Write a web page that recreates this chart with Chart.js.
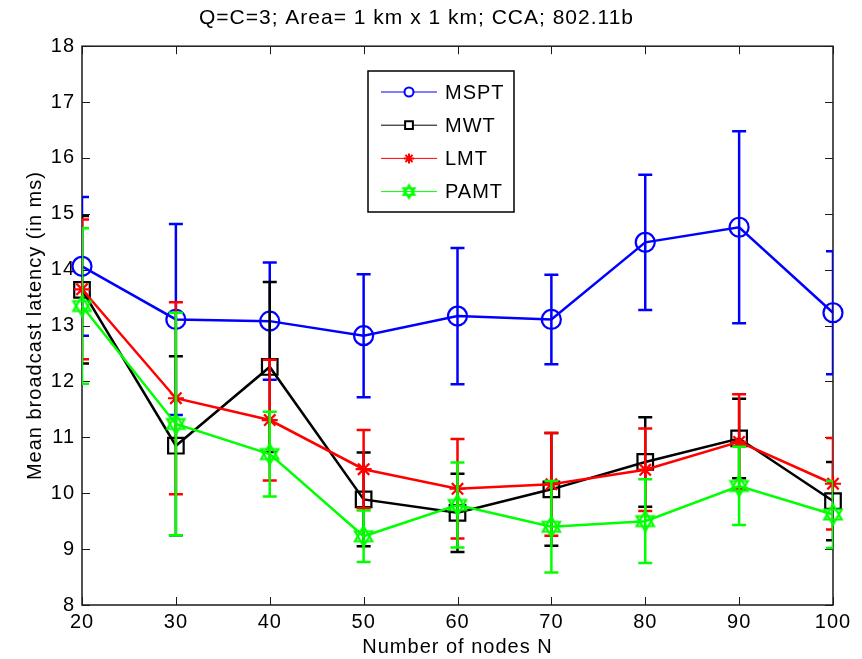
<!DOCTYPE html>
<html>
<head>
<meta charset="utf-8">
<script src="https://cdn.jsdelivr.net/npm/chart.js"></script>
<style>
  body { margin: 0; background: #fff; }
  #box { width: 862px; height: 659px; }
</style>
</head>
<body>
<div id="box"><canvas id="myChart"></canvas></div>
<script>
// données : nombre de noeuds et latence moyenne (ms) + demi-largeur des barres d'erreur
const nodes = [20, 30, 40, 50, 60, 70, 80, 90, 100];
const seriesNames = ['MSPT', 'MWT', 'LMT', 'PAMT'];

const mspt = [14.06, 13.11, 13.08, 12.82, 13.17, 13.11, 14.49, 14.76, 13.23];
const msptErr = [1.24, 1.71, 1.05, 1.1, 1.22, 0.8, 1.21, 1.72, 1.1];

const mwt = [13.64, 10.85, 12.26, 9.89, 9.65, 10.07, 10.56, 10.98, 9.86];
const mwtErr = [1.32, 1.6, 1.52, 0.84, 0.7, 1.01, 0.8, 0.71, 0.7];

const lmt = [13.65, 11.7, 11.31, 10.43, 10.08, 10.16, 10.42, 10.92, 10.17];
const lmtErr = [1.25, 1.72, 1.08, 0.7, 0.89, 0.92, 0.74, 0.85, 0.82];

const pamt = [13.35, 11.24, 10.7, 9.23, 9.79, 9.4, 9.5, 10.13, 9.62];
const pamtErr = [1.39, 1.99, 0.76, 0.46, 0.76, 0.82, 0.75, 0.7, 0.6];

const xTicks = [20, 30, 40, 50, 60, 70, 80, 90, 100];
const yTicks = [8, 9, 10, 11, 12, 13, 14, 15, 16, 17, 18];

const FONT = 'Helvetica, Arial, "Liberation Sans", sans-serif';

// étoile à six branches (hexagramme) dessinée dans un petit canvas
function hexagram(r, lw, color) {
    const c = document.createElement('canvas');
    const s = Math.ceil(2 * r + lw * 2 + 2);
    c.width = s; c.height = s;
    const g = c.getContext('2d');
    g.strokeStyle = color;
    g.lineWidth = lw;
    [-90, 90].forEach(a0 => {
        g.beginPath();
        for (let k = 0; k < 3; k++) {
            const a = (a0 + k * 120) * Math.PI / 180;
            const px = s / 2 + r * Math.cos(a), py = s / 2 + r * Math.sin(a);
            if (k === 0) g.moveTo(px, py); else g.lineTo(px, py);
        }
        g.closePath();
        g.stroke();
    });
    return c;
}
const hexBig = hexagram(10, 2.2, '#00ff00');
const hexSmall = hexagram(6.5, 2, '#00ff00');

function toPoints(vals) {
    return nodes.map((n, i) => ({x: n, y: vals[i]}));
}

const errors = [msptErr, mwtErr, lmtErr, pamtErr];

// texte un peu espacé comme dans matlab
const spacing = {
    id: 'spacing',
    beforeDraw(chart) { chart.ctx.letterSpacing = '1px'; }
};

// barres d'erreur dessinées juste avant chaque série (même couleur)
const errorBars = {
    id: 'errorBars',
    beforeDatasetDraw(chart, args) {
        const ds = chart.data.datasets[args.index];
        const err = errors[args.index];
        const xs = chart.scales.x, ys = chart.scales.y;
        const area = chart.chartArea;
        const ctx = chart.ctx;
        ctx.save();
        ctx.beginPath();
        ctx.rect(area.left, area.top, area.right - area.left, area.bottom - area.top);
        ctx.clip();
        ctx.strokeStyle = ds.borderColor;
        ctx.lineWidth = 2.5;
        ds.data.forEach((p, i) => {
            const px = xs.getPixelForValue(p.x);
            const top = ys.getPixelForValue(p.y + err[i]);
            const bot = ys.getPixelForValue(p.y - err[i]);
            ctx.beginPath();
            ctx.moveTo(px, top); ctx.lineTo(px, bot);
            ctx.moveTo(px - 7, top); ctx.lineTo(px + 7, top);
            ctx.moveTo(px - 7, bot); ctx.lineTo(px + 7, bot);
            ctx.stroke();
        });
        ctx.restore();
    }
};

// cadre + graduations vers l'intérieur sur les 4 côtés
const frame = {
    id: 'frame',
    beforeDatasetsDraw(chart) {
        const {ctx, chartArea: a, scales} = chart;
        ctx.save();
        ctx.strokeStyle = '#1a1a1a';
        ctx.lineWidth = 1.5;
        ctx.strokeRect(a.left, a.top, a.right - a.left, a.bottom - a.top);
        ctx.lineWidth = 1;
        ctx.beginPath();
        xTicks.forEach(v => {
            const px = Math.round(scales.x.getPixelForValue(v)) + 0.5;
            ctx.moveTo(px, a.bottom); ctx.lineTo(px, a.bottom - 8);
            ctx.moveTo(px, a.top); ctx.lineTo(px, a.top + 8);
        });
        yTicks.forEach(v => {
            const py = Math.round(scales.y.getPixelForValue(v)) + 0.5;
            ctx.moveTo(a.left, py); ctx.lineTo(a.left + 8, py);
            ctx.moveTo(a.right, py); ctx.lineTo(a.right - 8, py);
        });
        ctx.stroke();
        ctx.restore();
    }
};

// légende façon matlab : trait + marqueur + nom
const legendBox = {
    id: 'legendBox',
    afterDraw(chart) {
        const ctx = chart.ctx;
        const bx = 368, by = 71, bw = 146, bh = 141;
        ctx.save();
        ctx.fillStyle = '#fff';
        ctx.fillRect(bx, by, bw, bh);
        ctx.strokeStyle = '#000';
        ctx.lineWidth = 1.5;
        ctx.strokeRect(bx, by, bw, bh);
        chart.data.datasets.forEach((ds, i) => {
            const y = 92 + i * 33.2;
            ctx.strokeStyle = ds.borderColor;
            ctx.lineWidth = 1;
            ctx.beginPath();
            ctx.moveTo(381, y); ctx.lineTo(437, y);
            ctx.stroke();
            if (ds.label === 'PAMT') {
                ctx.drawImage(hexSmall, 409 - hexSmall.width / 2, y - hexSmall.height / 2);
            } else {
                const sizes = {MSPT: 4.5, MWT: 5.5, LMT: 5};
                ctx.fillStyle = ds.label === 'LMT' ? ds.borderColor : '#fff';
                ctx.strokeStyle = ds.borderColor;
                ctx.lineWidth = 2;
                Chart.helpers.drawPoint(ctx, {
                    pointStyle: ds.pointStyle,
                    radius: sizes[ds.label],
                    borderWidth: 2,
                    rotation: 0
                }, 409, y);
            }
            ctx.fillStyle = '#000';
            ctx.font = '20px ' + FONT;
            ctx.textBaseline = 'middle';
            ctx.fillText(ds.label, 445, y + 1);
        });
        ctx.restore();
    }
};

function serie(name, vals, color, style, r, order) {
    return {
        label: name,
        data: toPoints(vals),
        borderColor: color,
        backgroundColor: 'rgba(0,0,0,0)',
        borderWidth: 2.5,
        pointStyle: style,
        pointRadius: r,
        pointBorderWidth: 2.2,
        pointBorderColor: color,
        pointBackgroundColor: 'rgba(0,0,0,0)',
        tension: 0,
        clip: false,
        order: order
    };
}

new Chart(document.getElementById('myChart'), {
    type: 'line',
    data: {
        datasets: [
            serie(seriesNames[0], mspt, '#0000ff', 'circle', 9.5, 3),
            serie(seriesNames[1], mwt, '#000000', 'rect', 11, 2),
            serie(seriesNames[2], lmt, '#ff0000', 'star', 8, 1),
            serie(seriesNames[3], pamt, '#00ff00', hexBig, 9, 0)
        ]
    },
    options: {
        responsive: true,
        maintainAspectRatio: false,
        animation: false,
        layout: { padding: { top: 0, right: 29, left: 0, bottom: 0 } },
        plugins: {
            legend: { display: false },
            tooltip: { enabled: false },
            title: {
                display: true,
                text: 'Q=C=3; Area= 1 km x 1 km; CCA; 802.11b',
                color: '#000',
                font: { family: FONT, size: 21, weight: 'normal' },
                padding: { top: 6, bottom: 15 }
            }
        },
        scales: {
            x: {
                type: 'linear',
                min: 20,
                max: 100,
                afterFit(scale) { scale.height = 54; },
                afterBuildTicks(scale) { scale.ticks = xTicks.map(v => ({value: v})); },
                grid: { display: false, drawTicks: false },
                border: { display: false },
                ticks: {
                    color: '#000',
                    padding: 5,
                    maxRotation: 0,
                    font: { family: FONT, size: 20 }
                },
                title: {
                    display: true,
                    text: 'Number of nodes N',
                    color: '#000',
                    font: { family: FONT, size: 20 },
                    padding: { top: 0, bottom: 0 }
                }
            },
            y: {
                min: 8,
                max: 18,
                afterFit(scale) { scale.width = 82; },
                afterBuildTicks(scale) { scale.ticks = yTicks.map(v => ({value: v})); },
                grid: { display: false, drawTicks: false },
                border: { display: false },
                ticks: {
                    color: '#000',
                    padding: 7,
                    font: { family: FONT, size: 20 }
                },
                title: {
                    display: true,
                    text: 'Mean broadcast latency (in ms)',
                    color: '#000',
                    font: { family: FONT, size: 20 },
                    padding: { top: 23, bottom: 0 }
                }
            }
        }
    },
    plugins: [spacing, frame, errorBars, legendBox]
});
</script>
</body>
</html>
